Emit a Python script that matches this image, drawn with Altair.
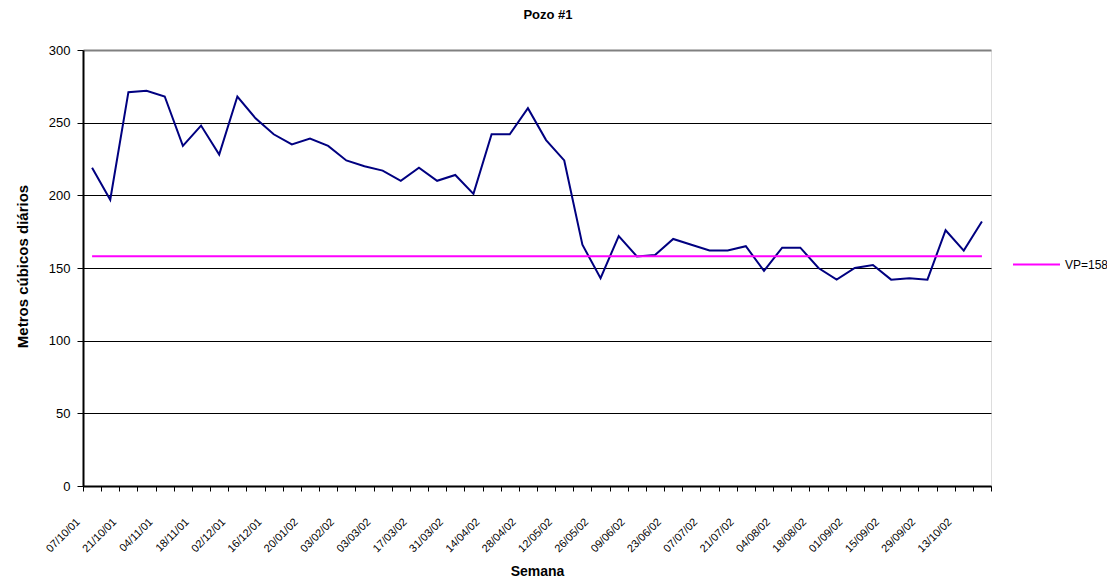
import altair as alt
import pandas as pd

semanas = [
    "07/10/01", "14/10/01", "21/10/01", "28/10/01", "04/11/01", "11/11/01",
    "18/11/01", "25/11/01", "02/12/01", "09/12/01", "16/12/01", "06/01/02",
    "20/01/02", "27/01/02", "03/02/02", "17/02/02", "03/03/02", "10/03/02",
    "17/03/02", "24/03/02", "31/03/02", "07/04/02", "14/04/02", "21/04/02",
    "28/04/02", "05/05/02", "12/05/02", "19/05/02", "26/05/02", "02/06/02",
    "09/06/02", "16/06/02", "23/06/02", "30/06/02", "07/07/02", "14/07/02",
    "21/07/02", "28/07/02", "04/08/02", "11/08/02", "18/08/02", "25/08/02",
    "01/09/02", "08/09/02", "15/09/02", "22/09/02", "29/09/02", "06/10/02",
    "13/10/02", "20/10/02",
]
caudal = [
    219, 197, 271, 272, 268, 234, 248, 228, 268, 253,
    242, 235, 239, 234, 224, 220, 217, 210, 219, 210,
    214, 201, 242, 242, 260, 238, 224, 166, 143, 172,
    158, 159, 170, 166, 162, 162, 165, 148, 164, 164,
    150, 142, 150, 152, 142, 143, 142, 176, 162, 182,
]
vp = 158
vp_label = f"VP={vp}"
etiquetas = semanas[::2]
y_ticks = [0, 50, 100, 150, 200, 250, 300]

df = pd.DataFrame({
    "Semana": semanas,
    "Caudal": caudal,
    "VP": [vp] * len(semanas),
    "Serie": [vp_label] * len(semanas),
})

FONT = "Liberation Sans"
label_list = "[" + ",".join(f"'{s}'" for s in etiquetas) + "]"

x_enc = alt.X(
    "Semana:N",
    sort=semanas,
    scale=alt.Scale(type="band", paddingInner=0, paddingOuter=0),
    axis=alt.Axis(
        title="Semana",
        titleFont=FONT, titleFontSize=14, titleFontWeight="bold", titleColor="black",
        titleBaseline="alphabetic", titleY=89,
        labelExpr=f"indexof({label_list}, datum.value) >= 0 ? datum.label : ''",
        labelAngle=315, labelAlign="right", labelBaseline="middle",
        labelOffset=-14, labelPadding=29,
        labelFont=FONT, labelFontSize=11, labelColor="black",
        labelOverlap=False,
        tickBand="extent", ticks=True, tickSize=5, tickColor="black", tickWidth=1,
        domainColor="black", domainWidth=2, grid=False,
    ),
)

y_scale = alt.Scale(domain=[0, 300], nice=False)

linea = alt.Chart(df).mark_line(color="#000080", strokeWidth=2).encode(
    x=x_enc,
    y=alt.Y(
        "Caudal:Q",
        scale=y_scale,
        axis=alt.Axis(
            title="Metros cúbicos diários",
            titleFont=FONT, titleFontSize=15, titleFontWeight="bold", titleColor="black",
            titleAngle=270, titleBaseline="alphabetic", titleAlign="center",
            titleX=-56, titleY=216,
            values=y_ticks,
            labelFont=FONT, labelFontSize=13, labelColor="black", labelPadding=7,
            tickSize=6, tickColor="black", tickWidth=1,
            domainColor="black", domainWidth=2,
            grid=True,
            gridColor={"condition": {"test": "datum.value === 300", "value": "#808080"}, "value": "black"},
            gridWidth={"condition": {"test": "datum.value === 300", "value": 2}, "value": 1},
        ),
    ),
)

vp_linea = alt.Chart(df).mark_line(strokeWidth=2).encode(
    x=alt.X("Semana:N", sort=semanas),
    y=alt.Y("VP:Q", scale=y_scale),
    color=alt.Color(
        "Serie:N",
        scale=alt.Scale(domain=[vp_label], range=["#FF00FF"]),
        legend=alt.Legend(
            title=None, orient="none", legendX=929, legendY=190,
            symbolType="stroke", symbolSize=2209, symbolStrokeWidth=2,
            labelFont=FONT, labelFontSize=12, labelColor="black", labelOffset=4,
            padding=0,
        ),
    ),
)

chart = (
    alt.layer(linea, vp_linea)
    .properties(
        width=908,
        height=436,
        title=alt.TitleParams(
            "Pozo #1", font=FONT, fontSize=13, fontWeight="bold", color="black",
            anchor="middle", dx=11, offset=22,
        ),
        padding={"left": 75, "top": 42, "right": 116, "bottom": 92},
        autosize=alt.AutoSizeParams(type="none"),
    )
    .configure_view(stroke="#808080", strokeWidth=2)
    .configure(background="white")
)

chart.save("out.html", embed_options={"renderer": "svg", "actions": False})
